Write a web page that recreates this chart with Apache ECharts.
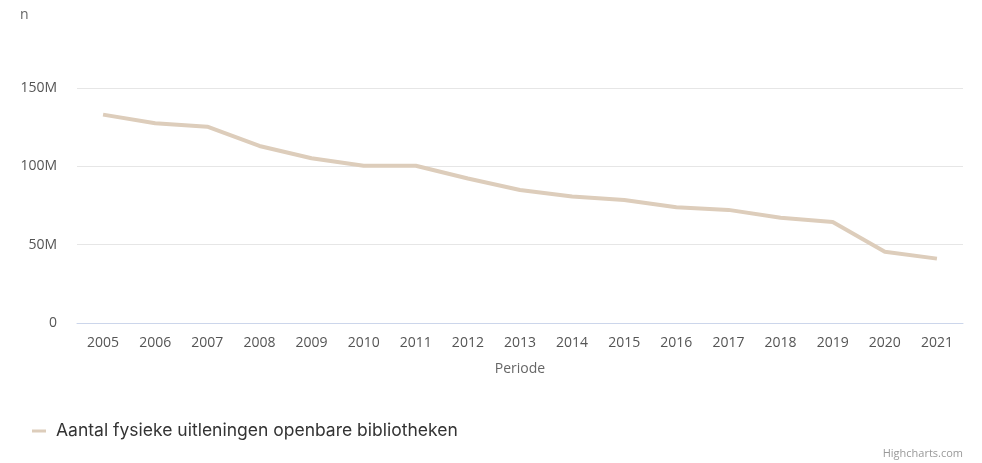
<!DOCTYPE html>
<html>
<head>
<meta charset="utf-8">
<script src="https://cdn.jsdelivr.net/npm/echarts@6/dist/echarts.min.js"></script>
<style>
  html, body { margin: 0; padding: 0; background: #ffffff; }
  #chart { width: 982px; height: 463px; }
</style>
</head>
<body>
<div id="chart"></div>
<script>
// Physical loans by public libraries, per year
const years = ['2005','2006','2007','2008','2009','2010','2011','2012','2013','2014','2015','2016','2017','2018','2019','2020','2021'];
const loans = [133.0e6, 127.5e6, 125.3e6, 113.0e6, 105.2e6, 100.4e6, 100.4e6, 92.2e6, 84.9e6, 80.8e6, 78.5e6, 73.9e6, 72.2e6, 67.2e6, 64.5e6, 45.5e6, 41.1e6];
const seriesName = 'Aantal fysieke uitleningen openbare bibliotheken';
const yTicks = { min: 0, max: 150e6, interval: 50e6 };

const lineColor = '#ddcdbb';
const axisFont = '"Open Sans", "DejaVu Sans", sans-serif';
const legendFont = 'Inter, "Open Sans", sans-serif';

const chart = echarts.init(document.getElementById('chart'), null, { renderer: 'canvas' });
chart.setOption({
  animation: false,
  backgroundColor: '#ffffff',
  grid: { left: 77, right: 19, top: 88, bottom: 140, containLabel: false },
  legend: {
    left: 27,
    top: 417,
    itemWidth: 14,
    itemHeight: 3,
    icon: 'rect',
    textStyle: { fontFamily: legendFont, fontSize: 17.5, color: '#333333', padding: [0, 0, 0, 5] },
    data: [{ name: seriesName, itemStyle: { color: lineColor } }]
  },
  xAxis: {
    type: 'category',
    data: years,
    boundaryGap: true,
    name: 'Periode',
    nameLocation: 'middle',
    nameGap: 39,
    nameTextStyle: { fontFamily: axisFont, fontSize: 14, color: '#666666' },
    axisLine: { lineStyle: { color: '#ccd6eb', width: 1 } },
    axisTick: { show: false },
    axisLabel: { fontFamily: axisFont, fontSize: 14, color: '#555555', margin: 13, interval: 0 },
    splitLine: { show: false }
  },
  yAxis: {
    type: 'value',
    min: yTicks.min,
    max: yTicks.max,
    interval: yTicks.interval,
    name: 'n',
    nameLocation: 'end',
    nameGap: 0,
    nameTextStyle: { fontFamily: axisFont, fontSize: 14, color: '#666666', align: 'left', padding: [0, 0, 66, -57] },
    axisLine: { show: false },
    axisTick: { show: false },
    axisLabel: {
      fontFamily: axisFont, fontSize: 14, color: '#555555', margin: 20,
      formatter: v => v === 0 ? '0' : (v / 1e6) + 'M'
    },
    splitLine: { lineStyle: { color: '#e6e6e6', width: 1 } }
  },
  series: [{
    name: seriesName,
    type: 'line',
    data: loans,
    showSymbol: false,
    symbol: 'none',
    lineStyle: { color: lineColor, width: 4 },
    itemStyle: { color: lineColor },
    z: 3
  }],
  graphic: [{
    type: 'text',
    right: 19,
    top: 448,
    style: { text: 'Highcharts.com', fontFamily: axisFont, fontSize: 11, fill: '#999999' }
  }]
});
</script>
</body>
</html>
